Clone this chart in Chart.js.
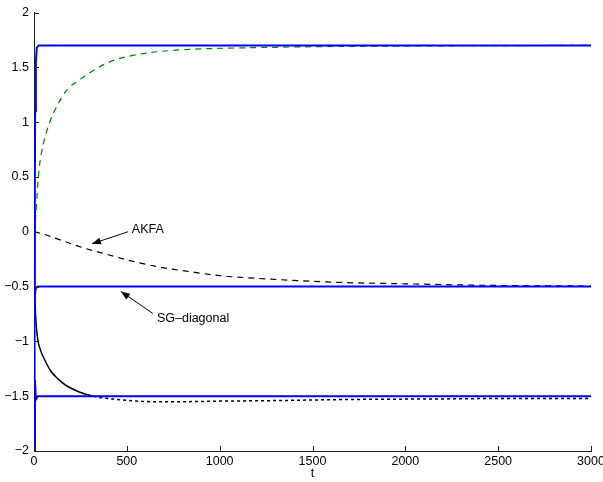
<!DOCTYPE html>
<html>
<head>
<meta charset="utf-8">
<script src="https://cdn.jsdelivr.net/npm/chart.js@4"></script>
<style>
  html, body { margin: 0; padding: 0; background: #fff; }
  #wrap { width: 603px; height: 482px; }
</style>
</head>
<body>
<div id="wrap"><canvas id="chart" width="603" height="482"></canvas></div>
<script>
// values
const tBlueTop = [0, 3, 6, 10, 15, 25, 3000]
const blueTop = [-2.0, -0.5, 1.1, 1.55, 1.68, 1.7, 1.7]
const tBlueMid = [0, 4, 8, 12, 20, 3000]
const blueMid = [0.2, -0.6, -0.53, -0.51, -0.5, -0.5]
const tBlueBot = [0, 5, 10, 20, 3000]
const blueBot = [-2.0, -1.35, -1.53, -1.5, -1.5]

const tGreen = [0, 10, 20, 28, 50, 85, 128, 175, 240, 300, 408, 570, 750, 900, 1200, 1500, 2000, 2500, 3000]
const green = [0.0, 0.17, 0.42, 0.58, 0.8, 1.0, 1.16, 1.29, 1.38, 1.45, 1.55, 1.62, 1.655, 1.668, 1.68, 1.688, 1.694, 1.698, 1.7]

const tAkfa = [0, 47, 150, 263, 400, 533, 700, 822, 1000, 1250, 1612, 2000, 2500, 3000]
const akfa = [0, -0.02, -0.08, -0.145, -0.21, -0.27, -0.33, -0.36, -0.4, -0.43, -0.46, -0.475, -0.49, -0.495]

const tLow = [0, 5, 10, 20, 35, 58, 90, 128, 170, 203, 240, 274, 320, 366, 450, 550, 650, 800, 1000, 1300, 1700, 2200, 2600, 3000]
const low = [-0.3, -0.6, -0.8, -0.98, -1.08, -1.17, -1.27, -1.34, -1.4, -1.43, -1.46, -1.48, -1.5, -1.515, -1.53, -1.545, -1.55, -1.55, -1.545, -1.54, -1.53, -1.525, -1.52, -1.52]

const xTicks = [0, 500, 1000, 1500, 2000, 2500, 3000]
const yTicks = [-2, -1.5, -1, -0.5, 0, 0.5, 1, 1.5, 2]

const notes = [
  { text: 'AKFA', tx: 527, ty: 0.02, from: [506, 0.0], to: [312, -0.11] },
  { text: 'SG\u2013diagonal', tx: 662, ty: -0.79, from: [640, -0.745], to: [468, -0.545] }
]

const pts = (xs, ys) => xs.map((x, i) => ({ x: x, y: ys[i] }))
const FONT = '"Liberation Sans", Arial, Helvetica, sans-serif'

const blue = '#0000ff'
const lineBase = { pointRadius: 0, fill: false, cubicInterpolationMode: 'monotone' }

const annotate = {
  id: 'annotate',
  afterDatasetsDraw(chart) {
    const c = chart.ctx
    const xs = chart.scales.x, ys = chart.scales.y
    c.save()
    c.strokeStyle = '#000'
    c.fillStyle = '#000'
    c.lineWidth = 1
    c.font = '12.5px ' + FONT
    c.textBaseline = 'middle'
    notes.forEach(n => {
      const x0 = xs.getPixelForValue(n.from[0]), y0 = ys.getPixelForValue(n.from[1])
      const x1 = xs.getPixelForValue(n.to[0]), y1 = ys.getPixelForValue(n.to[1])
      c.beginPath(); c.moveTo(x0, y0); c.lineTo(x1, y1); c.stroke()
      const a = Math.atan2(y1 - y0, x1 - x0), L = 9, W = 3.5
      c.beginPath()
      c.moveTo(x1, y1)
      c.lineTo(x1 - L * Math.cos(a) + W * Math.sin(a), y1 - L * Math.sin(a) - W * Math.cos(a))
      c.lineTo(x1 - L * Math.cos(a) - W * Math.sin(a), y1 - L * Math.sin(a) + W * Math.cos(a))
      c.closePath(); c.fill()
      c.fillText(n.text, xs.getPixelForValue(n.tx), ys.getPixelForValue(n.ty))
    })
    // axis title
    c.textAlign = 'center'
    c.fillText('t', (chart.chartArea.left + chart.chartArea.right) / 2, 474)
    // inward tick marks
    const area = chart.chartArea
    c.strokeStyle = '#222'
    xTicks.forEach(v => {
      const px = Math.round(xs.getPixelForValue(v)) + 0.5
      c.beginPath(); c.moveTo(px, area.bottom); c.lineTo(px, area.bottom - 5); c.stroke()
    })
    yTicks.forEach(v => {
      const py = Math.round(ys.getPixelForValue(v)) + 0.5
      c.beginPath(); c.moveTo(area.left, py); c.lineTo(area.left + 5, py); c.stroke()
    })
    c.restore()
  }
}

const minus = v => String(v).replace('-', '\u2212')

new Chart(document.getElementById('chart'), {
  type: 'line',
  data: {
    datasets: [
      { ...lineBase, data: pts(tBlueTop, blueTop), borderColor: blue, borderWidth: 2, cubicInterpolationMode: 'default', tension: 0 },
      { ...lineBase, data: pts(tBlueMid, blueMid), borderColor: blue, borderWidth: 2, cubicInterpolationMode: 'default', tension: 0 },
      { ...lineBase, data: pts(tBlueBot, blueBot), borderColor: blue, borderWidth: 2, cubicInterpolationMode: 'default', tension: 0 },
      { ...lineBase, data: pts(tGreen, green), borderColor: '#008000', borderWidth: 1.2, borderDash: [6, 5] },
      { ...lineBase, data: pts(tAkfa, akfa), borderColor: '#000', borderWidth: 1.2, borderDash: [6, 5] },
      { ...lineBase, data: pts(tLow, low), borderColor: '#000', borderWidth: 1.5,
        segment: { borderDash: s => s.p0.parsed.x >= 300 ? [3, 3] : undefined } }
    ]
  },
  options: {
    responsive: false,
    animation: false,
    events: [],
    layout: { padding: { left: 0, top: 11, right: 12, bottom: 0 } },
    plugins: { legend: { display: false }, tooltip: { enabled: false } },
    scales: {
      x: {
        type: 'linear', min: 0, max: 3000,
        afterBuildTicks: s => { s.ticks = xTicks.map(v => ({ value: v })) },
        afterFit: s => { s.height = 31; s.paddingLeft = 0; s.paddingRight = 0 },
        grid: { display: false, drawTicks: false },
        border: { display: true, color: '#222', width: 1 },
        ticks: { padding: 3, color: '#000', font: { family: FONT, size: 12.5 }, maxRotation: 0, callback: v => minus(v) }
      },
      y: {
        type: 'linear', min: -2, max: 2,
        afterBuildTicks: s => { s.ticks = yTicks.map(v => ({ value: v })) },
        afterFit: s => { s.width = 34 },
        grid: { display: false, drawTicks: false },
        border: { display: true, color: '#222', width: 1 },
        ticks: { padding: 5, color: '#000', font: { family: FONT, size: 12.5 }, callback: v => minus(v) }
      }
    }
  },
  plugins: [annotate]
})
</script>
</body>
</html>
